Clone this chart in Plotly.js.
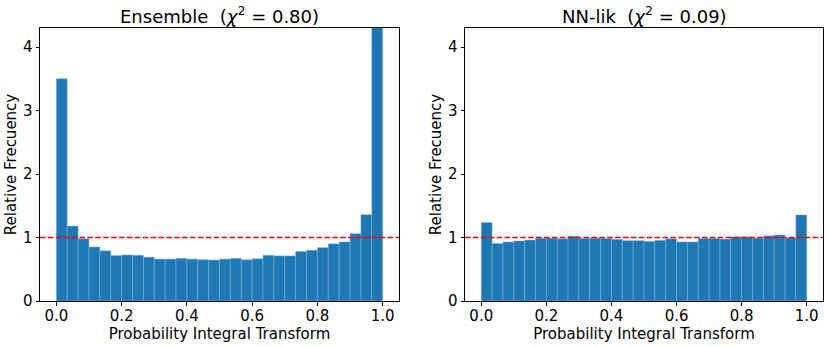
<!DOCTYPE html>
<html>
<head>
<meta charset="utf-8">
<script src="https://cdn.plot.ly/plotly-3.0.1.min.js"></script>
<style>html,body{margin:0;padding:0;background:#fff;}#chart{width:830px;height:347px;}</style>
</head>
<body>
<div id="chart"></div>
<script>
// Histogram: 30 equal bins on [0, 1]
const binStart = 0;
const binEnd = 1;
const nBins = 30;

// Relative frequency per bin (left panel: Ensemble)
const ensembleValues = [3.50, 1.18, 0.98, 0.85, 0.79, 0.715, 0.725, 0.72, 0.69, 0.66,
                        0.66, 0.67, 0.66, 0.65, 0.645, 0.66, 0.67, 0.65, 0.665, 0.72,
                        0.71, 0.71, 0.78, 0.80, 0.84, 0.90, 0.93, 1.06, 1.36, 4.80];
// Relative frequency per bin (right panel: NN-lik)
const nnlikValues = [1.235, 0.905, 0.93, 0.945, 0.96, 0.99, 0.99, 0.98, 1.02, 0.985,
                     0.99, 0.985, 0.97, 0.95, 0.95, 0.94, 0.955, 0.98, 0.93, 0.93,
                     0.985, 0.985, 0.975, 1.01, 1.01, 0.99, 1.025, 1.04, 0.995, 1.355];

const titles = ["Ensemble  (<i>χ</i><sup>2</sup> = 0.80)", "NN-lik  (<i>χ</i><sup>2</sup> = 0.09)"];
const xTickVals = [0.0, 0.2, 0.4, 0.6, 0.8, 1.0];
const yTickVals = [0, 1, 2, 3, 4];
const referenceLevel = 1;

const binWidth = (binEnd - binStart) / nBins;
const centers = ensembleValues.map((_, i) => binStart + (i + 0.5) * binWidth);

const FONT = "DejaVu Sans, Liberation Sans, sans-serif";
const barColor = "#1f77b4";

function barTrace(vals, xa, ya) {
  return {
    type: "bar", x: centers, y: vals, width: binWidth, xaxis: xa, yaxis: ya,
    marker: {color: barColor, line: {color: "rgba(120,175,220,0.9)", width: 0.6}},
    hoverinfo: "skip", showlegend: false
  };
}

const data = [barTrace(ensembleValues, "x", "y"), barTrace(nnlikValues, "x2", "y2")];

const yTop = 1 - 28 / 347, yBot = 1 - 301 / 347;
function xAxis(domain, anchor) {
  return {
    domain: domain, anchor: anchor, range: [-0.05, 1.05],
    tickvals: xTickVals, tickformat: ".1f", ticks: "outside", ticklen: 3.5, tickwidth: 1,
    tickcolor: "#000", showline: true, mirror: true, linecolor: "#000", linewidth: 1,
    showgrid: false, zeroline: false, ticklabelstandoff: -3,
    tickfont: {family: FONT, size: 15, color: "#000"},
    title: {text: "Probability Integral Transform", font: {family: FONT, size: 15, color: "#000"}, standoff: 2}
  };
}
function yAxis(anchor) {
  return {
    domain: [yBot, yTop], anchor: anchor, range: [0, 4.3],
    tickvals: yTickVals, ticks: "outside", ticklen: 3.5, tickwidth: 1, tickcolor: "#000",
    showline: true, mirror: true, linecolor: "#000", linewidth: 1,
    showgrid: false, zeroline: false,
    tickfont: {family: FONT, size: 15, color: "#000"},
    title: {text: "Relative Frecuency", font: {family: FONT, size: 15, color: "#000"}, standoff: 2}
  };
}

const dashLine = (xr, yr) => ({type: "line", xref: xr, yref: yr, x0: 0, x1: 1, y0: referenceLevel, y1: referenceLevel,
  line: {color: "red", width: 1.5, dash: "5.5px,2.4px"}});

const layout = {
  width: 830, height: 347,
  margin: {l: 0, r: 0, t: 0, b: 0},
  paper_bgcolor: "#fff", plot_bgcolor: "#fff",
  bargap: 0,
  xaxis: xAxis([40 / 830, 399 / 830], "y"),
  yaxis: yAxis("x"),
  xaxis2: xAxis([465 / 830, 823 / 830], "y2"),
  yaxis2: yAxis("x2"),
  shapes: [dashLine("x domain", "y"), dashLine("x2 domain", "y2")],
  annotations: [
    {text: titles[0], xref: "x domain", yref: "paper", x: 0.5, y: yTop, xanchor: "center", yanchor: "bottom",
     yshift: -1, showarrow: false, font: {family: FONT, size: 18, color: "#000"}},
    {text: titles[1], xref: "x2 domain", yref: "paper", x: 0.5, y: yTop, xanchor: "center", yanchor: "bottom",
     yshift: -1, showarrow: false, font: {family: FONT, size: 18, color: "#000"}}
  ]
};

Plotly.newPlot("chart", data, layout, {staticPlot: true, displayModeBar: false});
</script>
</body>
</html>
